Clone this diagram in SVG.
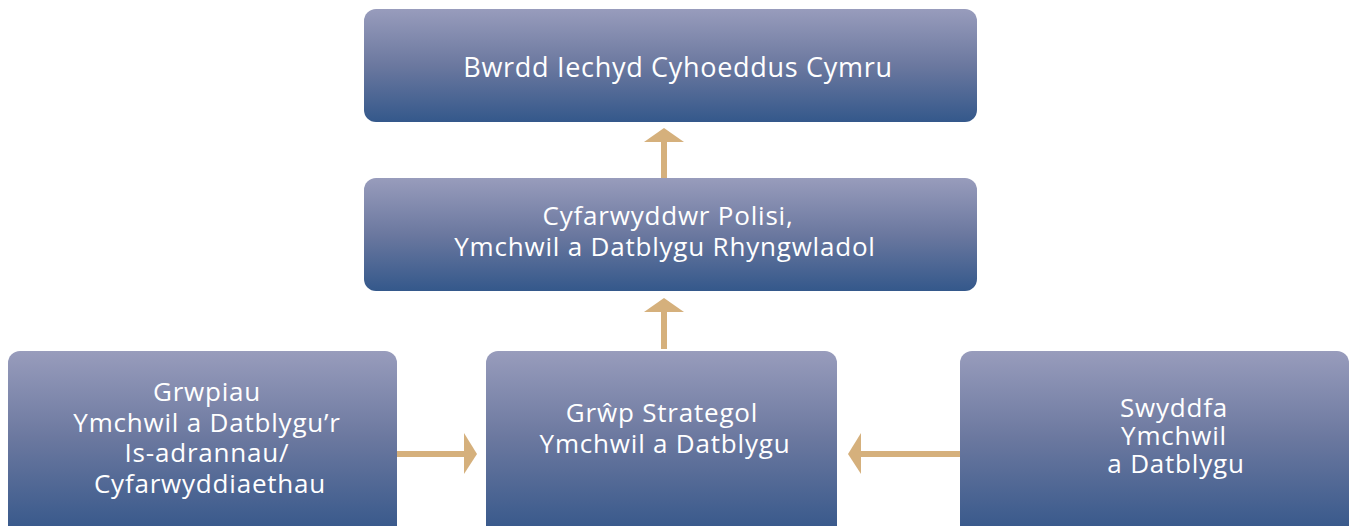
<svg xmlns="http://www.w3.org/2000/svg" width="1354" height="526" viewBox="0 0 1354 526">
<defs>
<linearGradient id="g" x1="0" y1="0" x2="0" y2="1">
<stop offset="0" stop-color="#989cbc"/>
<stop offset="0.5" stop-color="#6b789f"/>
<stop offset="1" stop-color="#34588b"/>
</linearGradient>
<linearGradient id="gb" gradientUnits="userSpaceOnUse" x1="0" y1="351" x2="0" y2="526">
<stop offset="0" stop-color="#989cbc"/>
<stop offset="0.5" stop-color="#6b789f"/>
<stop offset="1" stop-color="#3a5a8c"/>
</linearGradient>
<style>
.box{fill:url(#g);}
.boxb{fill:url(#gb);}
.t{font-family:"Open Sans","Noto Sans",sans-serif;font-size:26px;letter-spacing:0.8px;fill:#ffffff;text-anchor:middle;}
.t1{font-size:27px;letter-spacing:0.7px;}
.ar{fill:#d5b07c;}
</style>
</defs>
<g id="connectors">
<rect class="ar" x="661" y="141" width="6" height="37"/>
<polygon class="ar" points="644,142 664,128 684,142"/>
<rect class="ar" x="661" y="311" width="6" height="38"/>
<polygon class="ar" points="644,312 664,298 684,312"/>
<rect class="ar" x="397" y="451" width="68" height="6"/>
<polygon class="ar" points="464,433 477,454 464,474"/>
<rect class="ar" x="861" y="451" width="99" height="6"/>
<polygon class="ar" points="861,433 848,454 861,474"/>
</g>
<g id="n1">
<rect class="box" x="364" y="9" width="613" height="113" rx="12"/>
<text class="t t1" x="678" y="77">Bwrdd Iechyd Cyhoeddus Cymru</text>
</g>
<g id="n2">
<rect class="box" x="364" y="178" width="613" height="113" rx="12"/>
<text class="t" x="668" y="225">Cyfarwyddwr Polisi,</text>
<text class="t" x="665" y="256">Ymchwil a Datblygu Rhyngwladol</text>
</g>
<g id="n3">
<rect class="boxb" x="8" y="351" width="389" height="190" rx="12"/>
<text class="t" x="207" y="401">Grwpiau</text>
<text class="t" x="207" y="432">Ymchwil a Datblygu’r</text>
<text class="t" x="207" y="462">Is-adrannau/</text>
<text class="t" x="210" y="493">Cyfarwyddiaethau</text>
</g>
<g id="n4">
<rect class="boxb" x="486" y="351" width="351" height="190" rx="12"/>
<text class="t" x="662" y="422">Grŵp Strategol</text>
<text class="t" x="665" y="453">Ymchwil a Datblygu</text>
</g>
<g id="n5">
<rect class="boxb" x="960" y="351" width="389" height="190" rx="12"/>
<text class="t" x="1174" y="417">Swyddfa</text>
<text class="t" x="1174" y="445">Ymchwil</text>
<text class="t" x="1176" y="473">a Datblygu</text>
</g>
</svg>
